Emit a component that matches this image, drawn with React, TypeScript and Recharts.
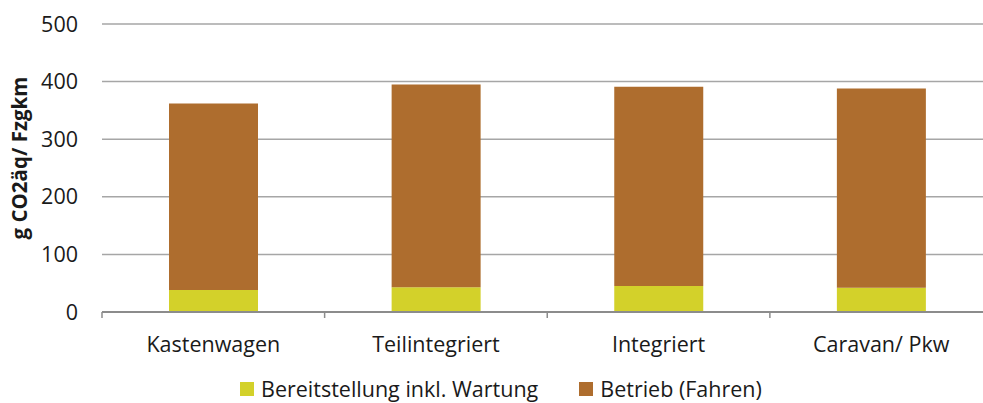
import React from "react";
import { BarChart, Bar, XAxis, YAxis, CartesianGrid } from "recharts";

const categories = ["Kastenwagen", "Teilintegriert", "Integriert", "Caravan/ Pkw"];
const bereitstellung = [38, 43, 45, 42];
const betrieb = [324, 352, 346, 346];
const yTicks = [0, 100, 200, 300, 400, 500];

const seriesNames = ["Bereitstellung inkl. Wartung", "Betrieb (Fahren)"];
const colors = ["#D3D12A", "#AE6D2E"];

const data = categories.map((name, i) => ({
    name,
    bereitstellung: bereitstellung[i],
    betrieb: betrieb[i],
}));

const FONT = "'Open Sans', sans-serif";
const W = 1000;
const H = 403;

// x tick: label plus the small boundary mark to the left of each category
const CategoryTick = (props: any) => {
    const { x, y, payload } = props;
    const half = payload && payload.offset ? payload.offset : 111;
    return (
        <g>
            <line x1={x - half} y1={y} x2={x - half} y2={y + 6} stroke="#8C8C8C" strokeWidth={1.5} />
            {payload.index === categories.length - 1 && (
                <line x1={x + half} y1={y} x2={x + half} y2={y + 6} stroke="#8C8C8C" strokeWidth={1.5} />
            )}
            <text x={x} y={y + 25} dy="0.71em" textAnchor="middle" fill="#1a1a1a" fontSize={21.5} fontFamily={FONT}>
                {payload.value}
            </text>
        </g>
    );
};

const LegendBox = () => (
    <div
        style={{
            position: "absolute",
            top: 374,
            left: 240,
            display: "flex",
            alignItems: "center",
            fontFamily: FONT,
            fontSize: 21.5,
            color: "#1a1a1a",
            whiteSpace: "nowrap",
        }}
    >
        {seriesNames.map((s, i) => (
            <div key={s} style={{ display: "flex", alignItems: "center", marginRight: 41 }}>
                <span style={{ width: 14, height: 14, background: colors[i], display: "inline-block", marginRight: 7 }} />
                <span>{s}</span>
            </div>
        ))}
    </div>
);

export default function App() {
    return (
        <div style={{ position: "fixed", left: 0, top: 0, width: 983, height: H, overflow: "hidden", background: "#fff" }}>
            <BarChart width={W} height={H} data={data} margin={{ top: 24, right: 7.5, bottom: 51, left: 0 }} barSize={89}>
                <CartesianGrid vertical={false} stroke="#A6A6A6" strokeWidth={1.5} />
                <XAxis
                    dataKey="name"
                    axisLine={{ stroke: "#8C8C8C", strokeWidth: 2 }}
                    tickLine={false}
                    tickSize={0}
                    tickMargin={0}
                    tick={<CategoryTick />}
                    interval={0}
                    height={40}
                />
                <YAxis
                    domain={[0, 500]}
                    ticks={yTicks}
                    width={102}
                    axisLine={false}
                    tickLine={false}
                    tickSize={0}
                    tickMargin={24}
                    tick={{ fill: "#1a1a1a", fontSize: 21.5, fontFamily: FONT }}
                    label={{
                        content: (p: any) => {
                            const vb = p.viewBox || { y: 24, height: 288 };
                            const cy = vb.y + vb.height / 2 - 10;
                            return (
                                <text
                                    transform={`translate(19, ${cy}) rotate(-90)`}
                                    textAnchor="middle"
                                    dominantBaseline="central"
                                    fontFamily={FONT}
                                    fontWeight="bold"
                                    fontSize={20.5}
                                    fill="#1a1a1a"
                                >
                                    g CO2äq/ Fzgkm
                                </text>
                            );
                        },
                    }}
                />
                <Bar dataKey="bereitstellung" name={seriesNames[0]} stackId="a" fill={colors[0]} isAnimationActive={false} />
                <Bar dataKey="betrieb" name={seriesNames[1]} stackId="a" fill={colors[1]} isAnimationActive={false} />
            </BarChart>
            <LegendBox />
        </div>
    );
}
